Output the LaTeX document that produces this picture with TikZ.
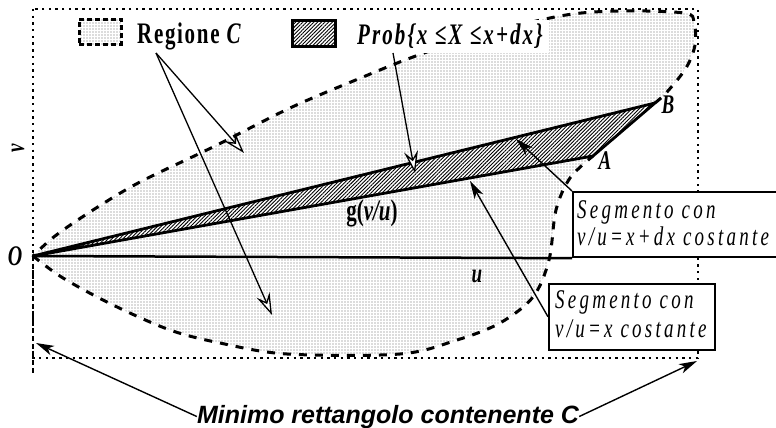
\documentclass[tikz,border=0pt]{standalone}
\usepackage{graphicx}
\usepackage{fontspec}
\setmainfont{Liberation Serif}
\newfontfamily\hvfont{Liberation Sans}
\usetikzlibrary{arrows.meta,patterns.meta}
\newcommand\stretchy[1]{\scalebox{1}[1.42]{#1}}
\begin{document}
\begin{tikzpicture}[x=1pt,y=-1pt,
  rectline/.style={line width=2.6pt, dash pattern=on 2.4pt off 4.3pt},
  cbound/.style={line width=3pt, dash pattern=on 8pt off 8pt},
  dotsfill/.style={pattern={Dots[distance=3pt,radius=0.55pt]}, pattern color=black!60},
  hatchfill/.style={preaction={fill=white}, pattern={Lines[angle=45,distance=2.6pt,line width=0.9pt]}, pattern color=black},
  openarr/.style={line width=1.3pt, -{Stealth[length=22pt,width=14pt,inset=8pt,fill=white,line width=1.3pt]}},
  fillarr/.style={line width=1.4pt, -{Stealth[length=18pt,width=10pt,inset=5pt]}},
  lbl/.style={inner sep=0pt, font=\fontsize{19}{22}\selectfont\bfseries\itshape},
  seg/.style={inner sep=0pt, anchor=base west, font=\fontsize{19}{22}\selectfont\itshape\addfontfeature{LetterSpace=17}},
]
\useasboundingbox (0,0) rectangle (776,428);
\clip (0,0) rectangle (776,428);

% key points
\coordinate (O) at (33,256);
\coordinate (A) at (593,156);
\coordinate (B) at (655,103);

% region C fill
\fill[dotsfill] plot[smooth,tension=0.55] coordinates {(33,256) (63,278) (113,305) (170,330) (220,343) (287,354) (400,354) (457,340) (500,323) (533,297) (549,260) (556,210) (570,178) (593,156)}
  -- plot[smooth,tension=0.55] coordinates {(655,103) (667,92) (686,68) (695,45) (694,22) (684,13) (620,11) (560,16) (470,38) (413,57) (363,77) (290,108) (213,147) (140,182) (93,210) (55,236) (33,256)} -- cycle;

% minimum rectangle (dotted)
\coordinate (R1) at (33,9);
\coordinate (R2) at (698,358);
\draw[rectline] (R1) rectangle (R2);

% region C boundary
\draw[cbound] plot[smooth,tension=0.55] coordinates {(33,256) (63,278) (113,305) (170,330) (220,343) (287,354) (400,354) (457,340) (500,323) (533,297) (549,260) (556,210) (570,178) (593,156)};
\draw[cbound] plot[smooth,tension=0.55] coordinates {(655,103) (667,92) (686,68) (695,45) (694,22) (684,13) (620,11) (560,16) (470,38) (413,57) (363,77) (290,108) (213,147) (140,182) (93,210) (55,236) (33,256)};
\coordinate (Ldown) at (33,373);
\draw[line width=2.6pt, dash pattern=on 5pt off 3pt] (O) -- (Ldown);

% wedge
\draw[hatchfill, line width=2.8pt, line join=round] (O) -- (B) -- (A) -- cycle;

% boxes
\node[draw, line width=2.2pt, fill=white, anchor=north west, minimum width=240, minimum height=65, inner sep=0] (b1) at (572,191) {};
\node[draw, line width=1.6pt, fill=white, anchor=north west, minimum width=166, minimum height=66, inner sep=0] (b2) at (548,283) {};
\draw[line width=2.5pt] (O) -- (b1.south west);

\node[seg] (t1a) at (577,218) {\stretchy{Segmento con}};
\node[seg] (t1b) at (577,245) {\stretchy{v/u=x+dx costante}};
\node[seg] (t2a) at (555,308) {\stretchy{Segmento con}};
\node[seg] (t2b) at (555,337) {\stretchy{v/u=x costante}};

% legend
\node[draw, line width=2.6pt, dash pattern=on 5pt off 3pt, dotsfill, minimum width=42, minimum height=25, anchor=north west, inner sep=0] (legC) at (78,18) {};
\node[hatchfill, draw, line width=2.8pt, minimum width=43, minimum height=26, anchor=north west, inner sep=0] (legP) at (291,19) {};
\node[anchor=base west, inner sep=0, font=\fontsize{21}{24}\selectfont\bfseries\addfontfeature{LetterSpace=8}] (regC) at (137,44) {\stretchy{Regione \textit{C}}};
\node[anchor=base west, inner xsep=6pt, inner ysep=4pt, fill=white, font=\fontsize{21}{24}\selectfont\bfseries\itshape\addfontfeature{LetterSpace=10}] (prob) at (351,45) {\stretchy{Prob\{x ≤X ≤x+dx\}}};

% labels
\node[lbl] (Blab) at (668,105) {\stretchy{B}};
\node[lbl] (Alab) at (605,161) {\stretchy{A}};
\node[lbl, font=\fontsize{20}{22}\selectfont\bfseries\itshape] (Olab) at (15,256) {\stretchy{O}};
\node[lbl] (ulab) at (477,276) {\stretchy{u}};
\node[lbl, rotate=90] (vlab) at (18,148) {\stretchy{v}};
\node[inner sep=0, font=\fontsize{21}{24}\selectfont\bfseries] (glab) at (372,213) {\stretchy{g(\textit{v/u})}};

% open arrows
\coordinate (rc) at (156,53);
\coordinate (rc1) at (244,153);
\coordinate (rc2) at (272,315);
\coordinate (pr) at (393,53);
\coordinate (pr1) at (415,173);
\draw[openarr] (rc) -- (rc1);
\draw[openarr] (rc) -- (rc2);
\draw[openarr] (pr) -- (pr1);

% box arrows
\coordinate (tip1) at (516,139);
\coordinate (tip2) at (470,181);
\draw[fillarr] (b1.north west) -- (tip1);
\draw[fillarr] (b2.west) -- (tip2);

% bottom caption
\node[anchor=base, inner sep=0, font=\hvfont\fontsize{25}{28}\selectfont\bfseries\itshape] (mini) at (388,423) {Minimo rettangolo contenente C};
\coordinate (mL) at (36,343);
\coordinate (mR) at (697,361);
\draw[fillarr] (mini.west) -- (mL);
\draw[fillarr] (mini.east) -- (mR);
\end{tikzpicture}
\end{document}
